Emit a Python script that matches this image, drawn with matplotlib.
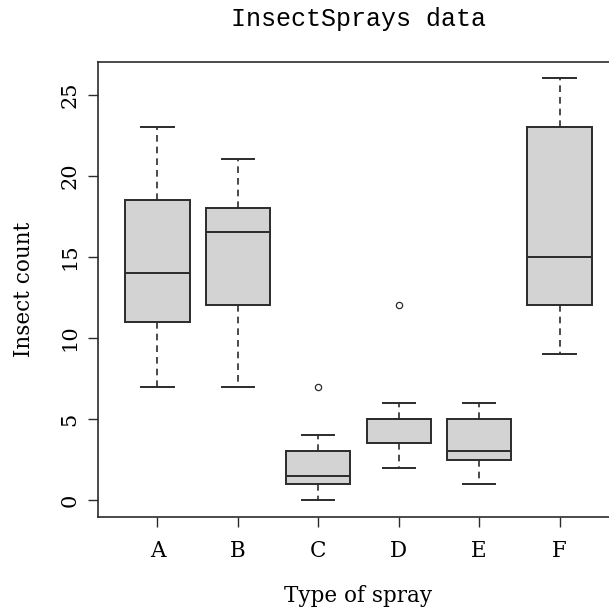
import matplotlib
matplotlib.use("Agg")
import matplotlib.pyplot as plt

# InsectSprays summary (Tukey five-number stats as drawn by R boxplot)
sprays = ["A", "B", "C", "D", "E", "F"]
whisker_low = [7, 7, 0, 2, 1, 9]
q1 = [11, 12, 1, 3.5, 2.5, 12]
median = [14, 16.5, 1.5, 5, 3, 15]
q3 = [18.5, 18, 3, 5, 5, 23]
whisker_high = [23, 21, 4, 6, 6, 26]
outliers = [[], [], [7], [12], [], []]
yticks = [0, 5, 10, 15, 20, 25]

W, H = 609, 608
fig = plt.figure(figsize=(W / 100, H / 100), dpi=100)
left, right, top, bottom = 98, 619, 61.5, 517
ax = fig.add_axes([left / W, 1 - bottom / H, (right - left) / W, (bottom - top) / H])

stats = []
for i, s in enumerate(sprays):
    stats.append(dict(label=s, whislo=whisker_low[i], q1=q1[i], med=median[i],
                      q3=q3[i], whishi=whisker_high[i], fliers=outliers[i]))

edge = "#2b2b2b"
ax.bxp(stats, positions=range(1, len(sprays) + 1), widths=0.8, patch_artist=True,
       showfliers=True,
       boxprops=dict(facecolor="#d3d3d3", edgecolor=edge, linewidth=1.4),
       medianprops=dict(color=edge, linewidth=1.4),
       whiskerprops=dict(color=edge, linewidth=1.2, linestyle=(0, (4, 3))),
       capprops=dict(color=edge, linewidth=1.4),
       capwidths=0.4,
       flierprops=dict(marker="o", markersize=4.5, markerfacecolor="none",
                       markeredgecolor=edge, markeredgewidth=0.9))

ax.set_xlim(0.26, 6.74)
ax.set_ylim(-1.04, 27.04)
ax.set_yticks(yticks)
ax.set_yticklabels([str(v) for v in yticks], rotation=90, va="center",
                   family="DejaVu Serif", fontsize=15)
ax.set_xticks(range(1, len(sprays) + 1))
ax.set_xticklabels(sprays, family="DejaVu Serif", fontsize=15.5)
ax.tick_params(axis="both", length=7.5, width=1.0, color=edge)
ax.tick_params(axis="x", pad=9)
ax.tick_params(axis="y", pad=6)
for sp in ax.spines.values():
    sp.set_color(edge)
    sp.set_linewidth(1.2)

cx = (left + right) / 2 / W
fig.text(cx, 1 - 19 / H, "InsectSprays data", family="Liberation Mono",
         fontsize=18, ha="center", va="center")
fig.text(cx, 1 - 602 / H, "Type of spray", family="DejaVu Serif",
         fontsize=15.5, ha="center", va="baseline")
fig.text(24 / W, 1 - ((top + bottom) / 2) / H, "Insect count", family="DejaVu Serif",
         fontsize=15.5, ha="center", va="center", rotation=90)

fig.savefig("out.png", dpi=100)
